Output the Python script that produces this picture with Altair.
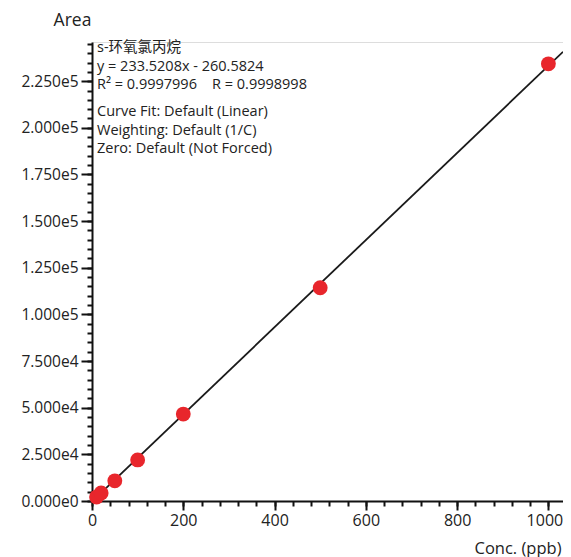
import altair as alt
import pandas as pd

# Data
conc = [10, 20, 50, 100, 200, 500, 1000]
area = [2100, 4300, 10800, 22000, 46600, 114300, 234300]

slope = 233.5208
intercept = -260.5824
x_max = 1032
y_max = 246000

x_major = [0, 200, 400, 600, 800, 1000]
x_minor = list(range(0, 1001, 40))
y_major = list(range(0, 225001, 25000))
y_minor = list(range(0, 245001, 5000))

NB = "\u00a0"
label_block1 = ["s-环氧氯丙烷", "y = 233.5208x - 260.5824", "R² = 0.9997996" + NB * 4 + "R = 0.9998998"]
label_block2 = ["Curve Fit: Default (Linear)", "Weighting: Default (1/C)", "Zero: Default (Not Forced)"]

pts = pd.DataFrame({"conc": conc, "area": area})
fit = pd.DataFrame({"conc": [0, x_max], "area": [intercept, slope * x_max + intercept]})

FONT = "Open Sans, Noto Sans CJK SC"
TXT = "#222222"

xscale = alt.Scale(domain=[0, x_max], nice=False, zero=False)
yscale = alt.Scale(domain=[0, y_max], nice=False, zero=False)

x_axis_major = alt.Axis(values=x_major, format="d", tickSize=9, tickWidth=2, tickColor="#111",
                        domainColor="#111", domainWidth=2, labelFont=FONT, labelFontSize=16,
                        labelColor=TXT, labelPadding=2, grid=False, orient="bottom",
                        labelOffset={"condition": {"test": "datum.value === 1000", "value": -4}, "value": 0},
                        title="Conc. (ppb)", titleFont=FONT, titleFontSize=16.5, titleFontWeight="normal",
                        titleColor=TXT, titleAlign="right", titleAnchor="end", titleX=469, titleY=47,
                        titleBaseline="middle", labelFlush=False, labelOverlap=False)
x_axis_minor = alt.Axis(values=x_minor, labels=False, tickSize=5, tickWidth=2, tickColor="#111",
                        domain=False, grid=False, title=None, orient="bottom")

y_axis_major = alt.Axis(values=y_major, tickSize=11, tickWidth=2, tickColor="#111",
                        domainColor="#111", domainWidth=2, labelFont=FONT, labelFontSize=15.5,
                        labelColor=TXT, labelPadding=3, grid=False, orient="left",
                        labelExpr="replace(format(datum.value, '.3e'), '+', '')",
                        title="Area", titleFont=FONT, titleFontSize=17.5, titleFontWeight="normal",
                        titleColor=TXT, titleAngle=0, titleAlign="center", titleX=-20, titleY=-22,
                        titleBaseline="middle", labelFlush=False, labelOverlap=False)
y_axis_minor = alt.Axis(values=y_minor, labels=False, tickSize=5, tickWidth=2, tickColor="#111",
                        domain=False, grid=False, title=None, orient="left")

line = alt.Chart(fit).mark_line(color="#1a1a1a", strokeWidth=1.8, clip=True).encode(
    x=alt.X("conc:Q", scale=xscale, axis=x_axis_major),
    y=alt.Y("area:Q", scale=yscale, axis=y_axis_major),
)

points = alt.Chart(pts).mark_circle(color="#e8262c", opacity=1, size=220).encode(
    x=alt.X("conc:Q", scale=xscale, axis=x_axis_minor),
    y=alt.Y("area:Q", scale=yscale, axis=y_axis_minor),
)

txt1 = alt.Chart(pd.DataFrame({"t": ["\n".join(label_block1)]})).mark_text(
    align="left", baseline="middle", font=FONT, fontSize=14.5, color=TXT, lineBreak="\n", lineHeight=18.5
).encode(x=alt.value(5), y=alt.value(6), text="t:N")

txt2 = alt.Chart(pd.DataFrame({"t": ["\n".join(label_block2)]})).mark_text(
    align="left", baseline="middle", font=FONT, fontSize=14.5, color=TXT, lineBreak="\n", lineHeight=18.5
).encode(x=alt.value(5), y=alt.value(70), text="t:N")

chart = alt.layer(line, points, txt1, txt2).resolve_axis(x="independent", y="independent").properties(
    width=471, height=459,
    autosize=alt.AutoSizeParams(type="none"),
    padding={"left": 84, "top": 34, "right": 0, "bottom": 56},
).configure_view(stroke=None).configure(background="white")

chart.save("out.html", embed_options={"renderer": "svg", "actions": False})
